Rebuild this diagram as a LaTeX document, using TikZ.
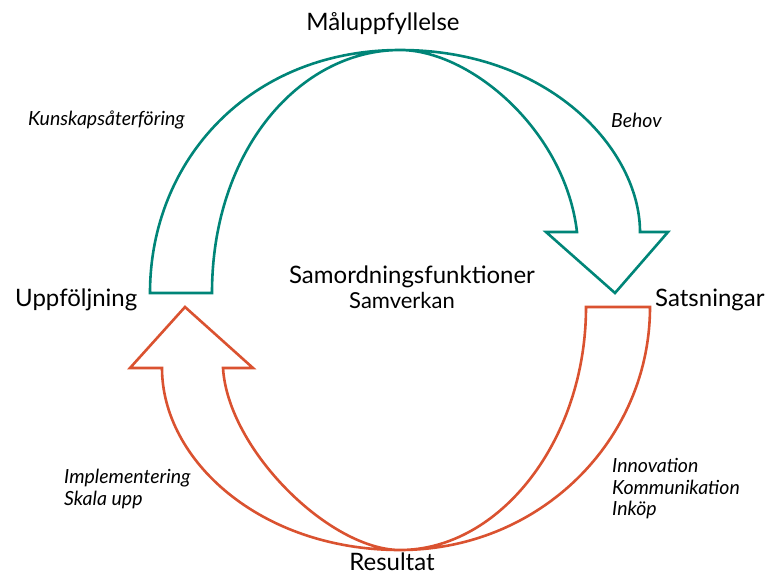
\documentclass[tikz,border=0pt]{standalone}
\usepackage{fontspec}
\setmainfont{Lato}
\definecolor{tealarrow}{RGB}{0,133,120}
\definecolor{redarrow}{RGB}{218,82,48}

\begin{document}
\begin{tikzpicture}[x=1pt,y=-1pt,
  tealline/.style={draw=tealarrow,line width=2.6pt},
  redline/.style={draw=redarrow,line width=2.6pt},
  biglabel/.style={font=\fontsize{24}{28}\selectfont,inner sep=0pt},
  midlabel/.style={font=\fontsize{22}{26}\selectfont,inner sep=0pt},
  itlabel/.style={font=\fontsize{19.5}{21.5}\selectfont\itshape,inner sep=0pt,anchor=west,align=left}]
  \useasboundingbox (0,0) rectangle (771,576);

  % upper arrow: Uppföljning -> Måluppfyllelse -> Satsningar
  \draw[tealline] (150,293) .. controls (150,160) and (250,50) .. (400,50)
    .. controls (550,50) and (640,150) .. (640,232) -- (668,232) -- (615,293) -- (546,232) -- (577,232)
    .. controls (565,130) and (470,50) .. (400,50) .. controls (300,50) and (212,150) .. (212,293) -- cycle;

  % lower arrow: Satsningar -> Resultat -> Uppföljning
  \draw[redline] (650,307) .. controls (650,440) and (540,550) .. (400,550)
    .. controls (260,550) and (162,460) .. (162,368) -- (130,368) -- (185,307) -- (253,368) -- (223,368)
    .. controls (228,450) and (330,550) .. (400,550) .. controls (500,550) and (586,440) .. (586,307) -- cycle;

  \node[biglabel] (mal) at (383,24) {Måluppfyllelse};
  \node[biglabel,anchor=west] (uppf) at (15,300) {Uppföljning};
  \node[biglabel,anchor=west] (sats) at (655,300) {Satsningar};
  \node[biglabel] (res) at (392,562) {Resultat};
  \node[biglabel] (samord) at (412,277) {Samordningsfunktioner};
  \node[midlabel] (samverk) at (402,300) {Samverkan};

  \node[itlabel] (kunsk) at (28,120) {Kunskapsåterföring};
  \node[itlabel] (behov) at (611,120) {Behov};
  \node[itlabel] (impl) at (64,489) {Implementering\\Skala upp};
  \node[itlabel] (innov) at (612,489) {Innovation\\Kommunikation\\Inköp};
\end{tikzpicture}
\end{document}
